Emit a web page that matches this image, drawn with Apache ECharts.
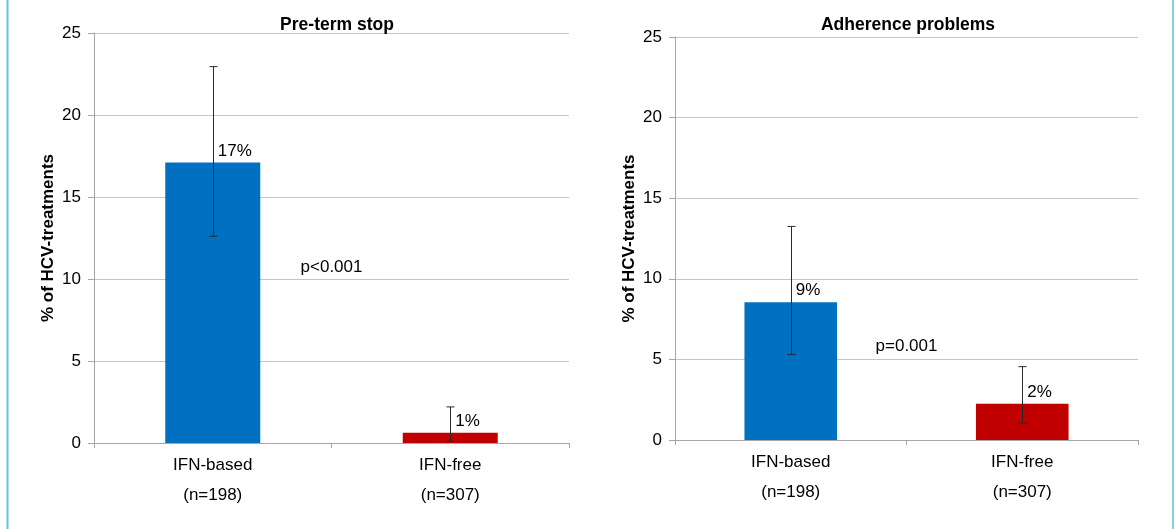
<!DOCTYPE html>
<html>
<head>
<meta charset="utf-8">
<script src="https://cdn.jsdelivr.net/npm/echarts@6/dist/echarts.min.js"></script>
<style>
html,body{margin:0;padding:0;background:#fff;}
#chart{width:1175px;height:529px;}
</style>
</head>
<body>
<div id="chart"></div>
<script>
// ---- data ----
const categories = ['IFN-based', 'IFN-free'];
const sampleSizes = ['(n=198)', '(n=307)'];
const chartTitles = ['Pre-term stop', 'Adherence problems'];
const yAxisName = '% of HCV-treatments';

const preTermValues = [17.1, 0.63];
const preTermLow = [12.6, 0.1];
const preTermHigh = [22.95, 2.2];
const preTermLabels = ['17%', '1%'];

const adherenceValues = [8.55, 2.25];
const adherenceLow = [5.3, 1.05];
const adherenceHigh = [13.25, 4.55];
const adherenceLabels = ['9%', '2%'];

const pValueTexts = ['p<0.001', 'p=0.001'];
const pValueY = [10.7, 5.8];

const yMin = 0, yMax = 25, yInterval = 5;

// ---- styles ----
const barColors = ['#0070c0', '#c00000'];
const FONT = "'Liberation Sans', Arial, sans-serif";
const axisGray = '#a6a6a6';
const gridGray = '#c4c4c4';
const errColor = '#2a2a2a';

const catLabels = categories.map((c, i) => c + '\n' + sampleSizes[i]);

function errorSeries(gi, low, high) {
  return {
    type: 'custom', xAxisIndex: gi, yAxisIndex: gi, z: 5,
    data: low.map((l, i) => [i, l, high[i]]),
    renderItem: function (params, api) {
      const x = api.value(0);
      const lo = api.coord([x, api.value(1)]);
      const hi = api.coord([x, api.value(2)]);
      const cx = Math.round(lo[0]) + 0.5;
      const cap = 4;
      const st = { stroke: errColor, lineWidth: 1 };
      return { type: 'group', children: [
        { type: 'line', shape: { x1: cx, y1: lo[1], x2: cx, y2: hi[1] }, style: st },
        { type: 'line', shape: { x1: cx - cap, y1: lo[1], x2: cx + cap, y2: lo[1] }, style: st },
        { type: 'line', shape: { x1: cx - cap, y1: hi[1], x2: cx + cap, y2: hi[1] }, style: st }
      ]};
    }
  };
}

function labelSeries(gi, values, labels) {
  return {
    type: 'custom', xAxisIndex: gi, yAxisIndex: gi, z: 6,
    data: values.map((v, i) => [i, v]),
    renderItem: function (params, api) {
      const p = api.coord([api.value(0), api.value(1)]);
      return { type: 'text', style: {
        x: p[0] + 5, y: p[1] - 3, text: labels[params.dataIndex],
        fill: '#000', font: '17px ' + FONT, textAlign: 'left', textVerticalAlign: 'bottom'
      }};
    }
  };
}

function pValueSeries(gi) {
  return {
    type: 'custom', xAxisIndex: gi, yAxisIndex: gi, z: 6,
    data: [[0, pValueY[gi]]],
    renderItem: function (params, api) {
      const a = api.coord([0, api.value(1)]);
      const b = api.coord([1, api.value(1)]);
      return { type: 'text', style: {
        x: (a[0] + b[0]) / 2, y: a[1], text: pValueTexts[gi],
        fill: '#000', font: '17px ' + FONT, textAlign: 'center', textVerticalAlign: 'middle'
      }};
    }
  };
}

function barSeries(gi, values) {
  return {
    type: 'bar', xAxisIndex: gi, yAxisIndex: gi, barWidth: '40%', z: 3,
    data: values.map((v, i) => ({ value: v, itemStyle: { color: barColors[i] } }))
  };
}

const grids = [
  { left: 94, right: 606, top: 33, bottom: 86 },
  { left: 675, right: 37, top: 37, bottom: 89 }
];

const titleStyle = { fontFamily: FONT, fontSize: 17.5, fontWeight: 'bold', color: '#000' };

const option = {
  backgroundColor: '#fff',
  animation: false,
  title: [
    { text: chartTitles[0], left: 332, top: 11, textAlign: 'center', textStyle: titleStyle },
    { text: chartTitles[1], left: 903, top: 11, textAlign: 'center', textStyle: titleStyle }
  ],
  grid: grids,
  xAxis: [0, 1].map(gi => ({
    type: 'category', gridIndex: gi, data: catLabels,
    axisLine: { show: true, lineStyle: { color: axisGray, width: 1 } },
    axisTick: { show: true, length: 5, lineStyle: { color: axisGray } },
    axisLabel: { color: '#000', fontFamily: FONT, fontSize: 17, lineHeight: 30, margin: 7 }
  })),
  yAxis: [0, 1].map(gi => ({
    type: 'value', gridIndex: gi, min: yMin, max: yMax, interval: yInterval,
    name: yAxisName, nameLocation: 'middle', nameGap: 37, nameRotate: 90,
    nameTextStyle: { fontFamily: FONT, fontSize: 17, fontWeight: 'bold', color: '#000' },
    axisLine: { show: true, lineStyle: { color: axisGray, width: 1 } },
    axisTick: { show: true, length: 6, lineStyle: { color: axisGray } },
    axisLabel: { color: '#000', fontFamily: FONT, fontSize: 17, margin: 13 },
    splitLine: { show: true, lineStyle: { color: gridGray, width: 1 } }
  })),
  series: [
    barSeries(0, preTermValues),
    errorSeries(0, preTermLow, preTermHigh),
    labelSeries(0, preTermValues, preTermLabels),
    pValueSeries(0),
    barSeries(1, adherenceValues),
    errorSeries(1, adherenceLow, adherenceHigh),
    labelSeries(1, adherenceValues, adherenceLabels),
    pValueSeries(1)
  ],
  graphic: [
    { type: 'line', shape: { x1: 7.5, y1: 0, x2: 7.5, y2: 529 }, style: { stroke: '#5fc6df', lineWidth: 2 } },
    { type: 'line', shape: { x1: 1173, y1: 0, x2: 1173, y2: 529 }, style: { stroke: '#7fd6df', lineWidth: 2 } }
  ]
};

const chart = echarts.init(document.getElementById('chart'), null, { renderer: 'canvas' });
chart.setOption(option);
</script>
</body>
</html>
